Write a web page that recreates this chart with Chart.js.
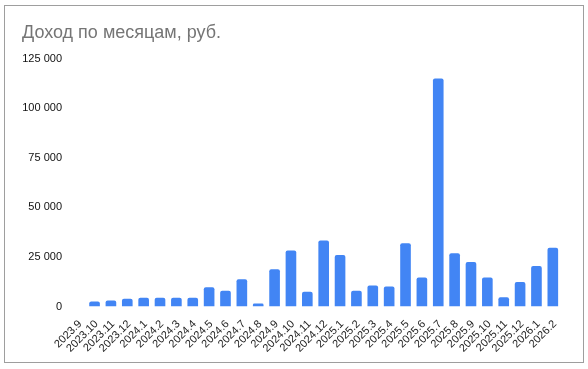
<!DOCTYPE html>
<html>
<head>
<meta charset="utf-8">
<script src="https://cdn.jsdelivr.net/npm/chart.js@4/dist/chart.umd.min.js"></script>
<style>
  body { margin: 0; background: #fff; }
  #box {
    position: absolute; left: 4px; top: 5px;
    width: 578px; height: 356px;
    border: 1px solid #9e9e9e; background: #fff;
  }
</style>
</head>
<body>
<div id="box"><canvas id="grafica" width="578" height="356"></canvas></div>
<script>
// meses y ingresos
var meses = ["2023.9","2023.10","2023.11","2023.12",
  "2024.1","2024.2","2024.3","2024.4","2024.5","2024.6","2024.7","2024.8","2024.9","2024.10","2024.11","2024.12",
  "2025.1","2025.2","2025.3","2025.4","2025.5","2025.6","2025.7","2025.8","2025.9","2025.10","2025.11","2025.12",
  "2026.1","2026.2"];
var ingresos = [0, 2500, 3000, 3900,
  4400, 4400, 4400, 4400, 9700, 8000, 13800, 1500, 18800, 28200, 7400, 33300,
  26000, 8000, 10600, 10100, 31900, 14600, 115000, 26900, 22400, 14600, 4700, 12400,
  20500, 29600];
var ticksY = [0, 25000, 50000, 75000, 100000, 125000];

function formatoMiles(v) {
  return String(v).replace(/\B(?=(\d{3})+(?!\d))/g, " ");
}

const config = {
  type: 'bar',
  data: {
    labels: meses,
    datasets: [{
      data: ingresos,
      backgroundColor: '#4285f4',
      borderRadius: { topLeft: 2, topRight: 2 },
      borderSkipped: 'start',
      barPercentage: 0.65,
      categoryPercentage: 1
    }]
  },
  options: {
    responsive: false,
    animation: false,
    layout: { padding: { left: 17, right: 22, top: 0, bottom: 4 } },
    plugins: {
      legend: { display: false },
      tooltip: { enabled: false },
      title: {
        display: true,
        text: 'Доход по месяцам, руб.',
        align: 'start',
        color: '#757575',
        font: { family: 'Liberation Sans, Arial', size: 18, weight: 'normal' },
        padding: { top: 16, bottom: 15 }
      }
    },
    scales: {
      y: {
        min: 0, max: 125000,
        grid: { display: false, drawTicks: false },
        border: { display: false },
        afterBuildTicks: (s) => { s.ticks = ticksY.map(v => ({ value: v })); },
        afterFit: (s) => { s.width = 48; },
        ticks: {
          color: '#111',
          padding: 8,
          font: { family: 'Liberation Sans, Arial', size: 11 },
          callback: (v) => formatoMiles(v)
        }
      },
      x: {
        grid: { display: false },
        border: { display: false },
        ticks: {
          color: '#222',
          autoSkip: false,
          labelOffset: 2,
          maxRotation: 45, minRotation: 45,
          font: { family: 'Liberation Sans, Arial', size: 11 }
        }
      }
    }
  }
};

var myChart = new Chart(document.getElementById('grafica'), config);
</script>
</body>
</html>
